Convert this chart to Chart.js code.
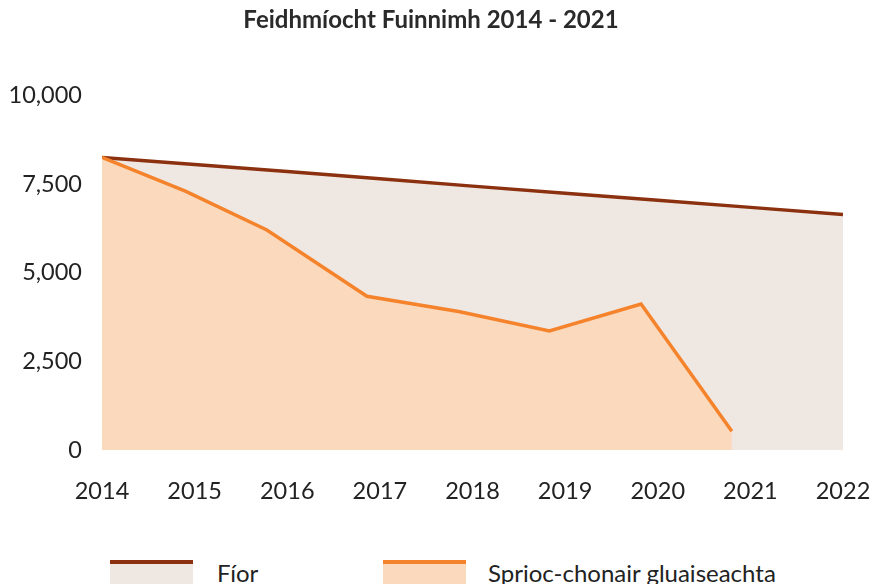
<!DOCTYPE html>
<html>
<head>
<meta charset="utf-8">
<script src="https://cdn.jsdelivr.net/npm/chart.js@4.4.1/dist/chart.umd.min.js"></script>
<style>
  html, body { margin: 0; padding: 0; background: #ffffff; overflow: hidden; }
  #wrap { position: relative; width: 882px; height: 584px; }
  #chartBox { position: absolute; left: 0; top: 0; width: 882px; height: 525px; }
  .lg-swatch { position: absolute; width: 83px; height: 26px; box-sizing: border-box; border-top: 4px solid; }
  .lg-text { position: absolute; font-family: Lato, sans-serif; font-size: 24px; color: #222; line-height: 26px; white-space: nowrap; }
</style>
</head>
<body>
<div id="wrap">
  <div id="chartBox"><canvas id="c"></canvas></div>
  <div id="legend"></div>
</div>
<script>
// ---- data ----
const titleText = 'Feidhmíocht Fuinnimh 2014 - 2021';
const seriesNames = ['Fíor', 'Sprioc-chonair gluaiseachta'];
const fiorYears = [2014, 2015, 2016, 2017, 2018, 2019, 2020, 2021, 2022];
const fiorValues = [8260, 8060, 7860, 7660, 7450, 7250, 7050, 6850, 6650];
const spriocYears = [2014, 2014.9, 2015.78, 2016.86, 2017.85, 2018.83, 2019.82, 2020.8];
const spriocValues = [8260, 7310, 6210, 4340, 3910, 3360, 4120, 530];
const yTicks = [0, 2500, 5000, 7500, 10000];
const xTickYears = [2014, 2015, 2016, 2017, 2018, 2019, 2020, 2021, 2022];

const lineColors = ['#8C3110', '#F5832C'];
const fillColors = ['#EFE7E2', '#FBD9BD'];

const toPts = (xs, ys) => xs.map((x, i) => ({ x: x, y: ys[i] }));

const chart = new Chart(document.getElementById('c'), {
  type: 'line',
  data: {
    datasets: [
      {
        label: seriesNames[0],
        data: toPts(fiorYears, fiorValues),
        borderColor: lineColors[0],
        backgroundColor: fillColors[0],
        borderWidth: 3.5,
        pointRadius: 0,
        fill: 'origin',
        tension: 0,
        order: 2
      },
      {
        label: seriesNames[1],
        data: toPts(spriocYears, spriocValues),
        borderColor: lineColors[1],
        backgroundColor: fillColors[1],
        borderWidth: 3.5,
        pointRadius: 0,
        fill: 'origin',
        tension: 0,
        order: 1
      }
    ]
  },
  options: {
    responsive: true,
    maintainAspectRatio: false,
    animation: false,
    layout: { padding: { left: 0, right: 20, top: 0, bottom: 0 } },
    plugins: {
      legend: { display: false },
      tooltip: { enabled: false },
      title: {
        display: true,
        text: titleText,
        color: '#2a2a2a',
        font: { family: 'Lato', size: 24, weight: 'bold' },
        padding: { top: 6, bottom: 61 }
      }
    },
    scales: {
      x: {
        type: 'linear',
        min: 2014,
        max: 2022,
        grid: { display: false, drawTicks: false },
        border: { display: false },
        afterBuildTicks: (s) => { s.ticks = xTickYears.map(v => ({ value: v })); },
        afterFit: (s) => { s.height = 75; s.paddingRight = 39; s.paddingLeft = 25; },
        ticks: {
          color: '#222',
          font: { family: 'Lato', size: 23.5 },
          padding: 27,
          maxRotation: 0,
          autoSkip: false,
          callback: (v) => String(v)
        }
      },
      y: {
        min: 0,
        max: 10000,
        grid: { display: false, drawTicks: false },
        border: { display: false },
        afterBuildTicks: (s) => { s.ticks = yTicks.map(v => ({ value: v })); },
        afterFit: (s) => { s.width = 102; },
        ticks: {
          color: '#222',
          font: { family: 'Lato', size: 23.5 },
          padding: 20,
          callback: (v) => v.toLocaleString('en-US')
        }
      }
    }
  }
});

// HTML legend built from the chart's datasets
const legendPos = [{ box: 110, text: 217 }, { box: 383, text: 488 }];
const lg = document.getElementById('legend');
chart.data.datasets.forEach((ds, i) => {
  const sw = document.createElement('div');
  sw.className = 'lg-swatch';
  sw.style.left = legendPos[i].box + 'px';
  sw.style.top = '560px';
  sw.style.background = ds.backgroundColor;
  sw.style.borderTopColor = ds.borderColor;
  lg.appendChild(sw);
  const tx = document.createElement('div');
  tx.className = 'lg-text';
  tx.style.left = legendPos[i].text + 'px';
  tx.style.top = '560px';
  tx.textContent = ds.label;
  lg.appendChild(tx);
});
</script>
</body>
</html>
